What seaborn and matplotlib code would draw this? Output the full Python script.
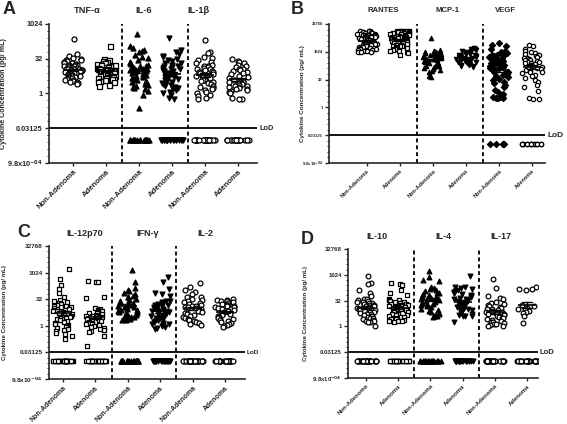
import warnings
import numpy as np
import seaborn as sns
import matplotlib.pyplot as plt
from matplotlib.ticker import NullFormatter

warnings.filterwarnings("ignore")
np.random.seed(3)  # fixed jitter

# ---- values, pg/mL ----
groups = ["Non-Adenoma", "Adenoma"]
lod = 0.03125
undetected = 0.01  # samples below LoD are drawn on this row

# panel A
tnf_non = [230, 50, 42, 35, 31, 29, 27, 25, 24, 22, 21, 20, 19, 18, 18, 17, 16, 15, 15, 14, 14, 13, 13, 12,
           12, 12, 11, 11, 10, 10, 10, 9.6, 9.2, 9, 8.7, 8.3, 8, 7.8, 7.4, 7, 6.8, 6.5, 6.3, 6, 5.8, 5.5,
           5.2, 5, 4.8, 4.6, 4.3, 4.1, 3.9, 3.7, 3.5, 3.2, 3, 2.8, 2.6]
tnf_ad = [110, 30, 27, 25, 23, 21, 20, 19, 18, 17, 17, 16, 15, 15, 14, 14, 13, 13, 12, 12, 12, 11, 11, 11,
          10, 10, 10, 9.5, 9.5, 9, 9, 8.6, 8.4, 8, 8, 7.6, 7.4, 7, 7, 6.6, 6.4, 6, 6, 5.7, 5.5, 5.3, 5,
          4.8, 4.6, 4.4, 4.2, 4, 3.8, 3.6, 3.4, 3.2, 3, 2.3, 2.1]
il6_non = [390, 110, 95, 80, 70, 60, 48, 40, 33, 28, 24, 21, 19, 17, 16, 15, 14, 13, 12, 11, 10, 10, 9.2,
           8.5, 8, 7.4, 7, 6.5, 6, 5.6, 5.2, 4.8, 4.4, 4, 3.6, 3.3, 3, 2.7, 2.4, 2.2, 2, 1.8, 1.6, 1.3,
           0.9, 0.24]
il6_ad = [260, 75, 60, 50, 44, 38, 32, 28, 25, 22, 20, 18, 16, 15, 14, 13, 12, 11, 10, 9.6, 9, 8.6, 8,
          7.5, 7, 6.6, 6.2, 5.8, 5.4, 5, 4.7, 4.4, 4, 3.7, 3.4, 3.1, 2.8, 2.6, 2.4, 2.2, 2, 1.8, 1.6, 1.4,
          1.2, 1, 0.85, 0.62, 0.58]
il1b_non = [210, 62, 55, 40, 34, 28, 24, 20, 18, 16, 15, 14, 13, 12, 11, 10, 9.4, 8.8, 8.2, 7.6, 7, 6.5,
            6, 5.6, 5.2, 4.8, 4.4, 4, 3.7, 3.4, 3.1, 2.8, 2.5, 2.2, 2, 1.8, 1.6, 1.4, 1.2, 1, 0.88, 0.76,
            0.65, 0.58]
il1b_ad = [30, 26, 24, 20, 18, 16, 14, 12, 11, 10, 9, 8.4, 7.8, 7, 6, 5.2, 4.6, 4, 3.6, 3.3, 3, 2.8, 2.6,
           2.4, 2.2, 2.1, 2, 1.9, 1.8, 1.6, 1.5, 1.4, 1.3, 1.2, 1.1, 0.62, 0.56, 0.6]
below_a = [0, 0, 18, 20, 22, 16]

# panel B
rantes_non = [13500, 13400, 13200, 13000, 12500, 12000, 11500, 11000, 10500, 10000, 9600, 9200, 8800, 8400,
              8000, 7700, 7400, 7100, 6800, 6500, 6200, 6000, 5800, 5600, 5400, 5200, 5000, 4800, 4600,
              4400, 4200, 4000, 3800, 3600, 3500, 3300, 3100, 3000, 2800, 2700, 2600, 2500, 2400, 2300,
              2200, 2100, 2000, 1900, 1800, 1700, 1600, 1500, 1400, 1300, 1250, 1200, 1100, 1050, 1000, 960]
rantes_ad = [13500, 13500, 13400, 13300, 13200, 13000, 12600, 12200, 11800, 11400, 11000, 10600, 10200,
             9800, 9400, 9000, 8600, 8200, 7900, 7600, 7300, 7000, 6700, 6400, 6100, 5900, 5700, 5500,
             5300, 5100, 4900, 4700, 4500, 4300, 4100, 3900, 3700, 3500, 3400, 3200, 3000, 2900, 2800,
             2600, 2500, 2400, 2300, 2200, 2100, 2000, 1900, 1800, 1700, 1600, 1500, 1400, 1300, 1200,
             1100, 1000, 920, 720]
mcp_non = [6000, 1300, 1200, 1100, 1050, 1000, 950, 900, 850, 800, 760, 720, 680, 640, 600, 570, 540, 510,
           480, 450, 420, 400, 380, 360, 340, 320, 300, 280, 260, 245, 230, 215, 200, 185, 170, 155, 140,
           125, 110, 95, 85, 48, 44]
mcp_ad = [1600, 1500, 1400, 1300, 1200, 1100, 1000, 940, 880, 820, 770, 720, 680, 640, 600, 560, 530, 500,
          470, 440, 410, 390, 370, 350, 330, 310, 290, 270, 250, 230, 210, 195, 180, 165, 150]
vegf_non = [2900, 2400, 2000, 1500, 1200, 1000, 900, 800, 720, 650, 600, 550, 500, 460, 420, 390, 360, 330,
            300, 280, 260, 240, 220, 200, 185, 170, 155, 140, 128, 116, 105, 95, 86, 78, 70, 62, 55, 48,
            42, 36, 30, 25, 20, 16, 12, 9, 7, 5.5, 4.2, 3.6, 3.5, 3.4, 3.4, 3.3]
vegf_ad = [2400, 2000, 1500, 1200, 1000, 900, 800, 720, 650, 600, 550, 500, 460, 420, 390, 360, 330, 300,
           280, 260, 240, 220, 200, 185, 170, 155, 140, 128, 116, 105, 95, 86, 78, 70, 60, 50, 40, 32, 24,
           16, 12, 8, 3.2, 3, 2.9]
below_b = [0, 0, 0, 0, 5, 14]

# panel C
il12_non = [1650, 450, 200, 120, 70, 45, 28, 25, 22, 20, 18, 16, 14, 13, 12, 11, 10, 9, 8, 7.2, 6.5, 6,
            5.5, 5, 4.5, 4, 3.6, 3.2, 2.9, 2.6, 2.3, 2, 1.8, 1.6, 1.4, 1.25, 1.1, 1, 0.9, 0.8, 0.7, 0.6,
            0.5, 0.4, 0.35, 0.27, 0.19]
il12_ad = [360, 320, 290, 42, 37, 10, 9, 8, 7.2, 6.5, 6, 5.4, 5, 4.5, 4, 3.6, 3.3, 3, 2.7, 2.5, 2.2, 2,
           1.8, 1.7, 1.5, 1.4, 1.3, 1.2, 1.1, 1, 0.9, 0.8, 0.7, 0.6, 0.5, 0.47, 0.27, 0.07]
ifng_non = [1450, 300, 130, 110, 90, 75, 60, 50, 45, 40, 32, 28, 25, 22, 20, 18, 16, 14, 13, 12, 11, 10,
            9, 8.2, 7.5, 7, 6.5, 6, 5.5, 5, 4.6, 4.2, 3.8, 3.5, 3.2, 3, 2.8, 2.6, 2.4, 2.2, 2.1]
ifng_ad = [550, 300, 120, 70, 60, 50, 26, 24, 22, 20, 18, 16, 15, 14, 13, 12, 11, 10, 9, 8.4, 7.8, 7.2,
           6.6, 6, 5.5, 5, 4.6, 4.2, 3.8, 3.5, 3.2, 2.9, 2.6, 2.4, 2.2, 2, 1.8, 1.6, 1.4, 1.3, 1.2, 1.1,
           1, 0.9, 0.8, 0.7]
il2_non = [256, 150, 110, 80, 60, 45, 40, 35, 30, 26, 23, 20, 18, 16, 14, 13, 12, 11, 10, 9, 8, 7.2, 6.5,
           6, 5.5, 5, 4.5, 4, 3.6, 3.2, 2.8, 2.5, 2.2, 2, 1.8, 1.6, 1.4, 1.2, 1.1]
il2_ad = [32, 30, 28, 26, 24, 22, 20, 18, 16, 15, 14, 13, 12, 11, 10, 9, 8, 7.2, 6.5, 6, 5.5, 5, 4.5, 4,
          3.6, 3.2, 2.8, 2.5, 2.2, 2, 1.8, 1.6, 1.4, 1.2, 1.1, 1, 0.9]
below_c = [30, 30, 24, 24, 26, 20]

# panel D
il10_non = [830, 340, 300, 128, 90, 56, 42, 38, 34, 31, 28, 26, 24, 22, 20, 18, 17, 16, 15, 14, 13, 12,
            11, 10, 9.2, 8.5, 7.8, 7.2, 6.6, 6, 5.5, 5, 4.6, 4.2, 3.8, 3.5, 3.2, 2.9, 2.6, 2.4, 2.2, 2,
            1.85, 1.7, 1.07]
il10_ad = [360, 315, 256, 128, 90, 64, 40, 36, 33, 30, 28, 26, 24, 22, 20, 19, 18, 17, 16, 15, 14, 13, 12,
           11, 10, 9.5, 9, 8.5, 8, 7.5, 7, 6.5, 6, 5.6, 5.2, 4.8, 4.4, 4, 3.7, 3.4, 3.1, 2.8, 2.6, 2.4,
           2.2, 2.1, 2, 1.9]
il4_non = [1800, 720, 512, 470, 210, 180, 150, 130, 110, 95, 85, 75, 66, 58, 52, 46, 42, 38, 34, 30, 27,
           24, 21, 19, 17, 15, 13, 11, 9.5, 8, 7, 6, 5.2, 4.6, 4.2, 4, 3.7]
il4_ad = [830, 210, 190, 170, 150, 135, 120, 105, 95, 85, 76, 68, 60, 54, 48, 42, 38, 34, 30, 27, 24, 21,
          19, 17, 15, 13, 12, 11, 10, 9, 8, 7, 6.2, 5.5, 4.8, 4.2, 4, 3.8, 1.9]
il17_non = [550, 180, 60, 45, 40, 26, 23, 20, 18, 16, 14, 12, 11, 10, 9, 8, 7.2, 6.5, 6, 5.5, 5, 4.5, 4,
            3.6, 3.2, 2.9, 2.6, 2.3, 2.1, 1.9, 1.7, 1.5, 1.4, 1.3, 1.2, 1.1, 1.07]
il17_ad = [190, 160, 150, 140, 17, 15, 12, 10, 9, 8, 7, 6, 4, 1.5]
below_d = [26, 26, 22, 24, 26, 22]

tick_text = {-10: r"9.8x10$^{-04}$", -5: "0.03125", 0: "1", 5: "32", 10: "1024", 15: "32768"}

panels = [
    dict(letter="A", titles=["TNF-\u03b1", "IL-6", "IL-1\u03b2"],
         cols=[tnf_non, tnf_ad, il6_non, il6_ad, il1b_non, il1b_ad], below=below_a,
         marks=[("o", 0), ("s", 0), ("^", 1), ("v", 1), ("o", 0), ("o", 0)],
         top=10, rect=[0.0864, 0.6156, 0.3668, 0.3278], xlim=(-0.73, 5.58),
         title_x=[0.42, 2.15, 3.8], ms=3.6, fs=dict(tick=5.3, cat=5.6, title=6.7, lab=5.1, lod=5.3),
         ylab_x=-0.2, letter_xy=(0.004, 0.997)),
    dict(letter="B", titles=["RANTES", "MCP-1", "VEGF"],
         cols=[rantes_non, rantes_ad, mcp_non, mcp_ad, vegf_non, vegf_ad], below=below_b,
         marks=[("o", 0), ("s", 0), ("^", 1), ("v", 1), ("D", 1), ("o", 0)],
         top=15, rect=[0.5802, 0.6156, 0.381, 0.3278], xlim=(-1.15, 5.39),
         title_x=[0.5, 2.45, 4.2], ms=3.1, fs=dict(tick=3.0, cat=4.0, title=5.6, lab=4.5, lod=6.0),
         ylab_x=-0.11, letter_xy=(0.513, 0.997)),
    dict(letter="C", titles=["IL-12p70", "IFN-\u03b3", "IL-2"],
         cols=[il12_non, il12_ad, ifng_non, ifng_ad, il2_non, il2_ad], below=below_c,
         marks=[("s", 0), ("s", 0), ("^", 1), ("v", 1), ("o", 0), ("o", 0)],
         top=15, rect=[0.0864, 0.1061, 0.3457, 0.3137], xlim=(-0.43, 5.62),
         title_x=[0.68, 2.6, 4.4], ms=3.5, fs=dict(tick=4.6, cat=5.0, title=6.5, lab=4.4, lod=4.6),
         ylab_x=-0.214, letter_xy=(0.03, 0.472)),
    dict(letter="D", titles=["IL-10", "IL-4", "IL-17"],
         cols=[il10_non, il10_ad, il4_non, il4_ad, il17_non, il17_ad], below=below_d,
         marks=[("o", 0), ("s", 0), ("^", 1), ("v", 1), ("o", 0), ("o", 0)],
         top=15, rect=[0.6138, 0.1085, 0.3351, 0.3042], xlim=(-0.56, 5.34),
         title_x=[0.34, 2.4, 4.2], ms=3.4, fs=dict(tick=4.3, cat=4.3, title=6.5, lab=4.4, lod=5.5),
         ylab_x=-0.21, letter_xy=(0.531, 0.455)),
]

sns.set_style("ticks")
plt.rcParams["font.family"] = ["Liberation Sans", "DejaVu Sans"]
plt.rcParams["font.weight"] = "bold"
plt.rcParams["mathtext.default"] = "bf"

fig = plt.figure(figsize=(5.67, 4.24), dpi=100)

for p in panels:
    ax = fig.add_axes(p["rect"])
    ax.set_yscale("log", base=2)
    order = [f"{t} {g}" for t in p["titles"] for g in groups]
    for i, key in enumerate(order):
        vals = p["cols"][i]
        m, filled = p["marks"][i]
        face = "black" if filled else "white"
        sns.stripplot(x=[key] * len(vals), y=vals, order=order, ax=ax, marker=m, size=p["ms"],
                      jitter=0.3, color=face, edgecolor="black", linewidth=0.9, zorder=3)
        n = p["below"][i]
        if n:
            sns.stripplot(x=[key] * n, y=[undetected] * n, order=order, ax=ax, marker=m, size=p["ms"],
                          jitter=0.33, color=face, edgecolor="black", linewidth=0.9, zorder=3)
        sns.pointplot(x=[key] * len(vals), y=vals, order=order, ax=ax, errorbar="se", capsize=0.3,
                      color="black", marker="_", markersize=13, markeredgewidth=1.2, linestyle="none",
                      err_kws={"linewidth": 1.0}, zorder=4)

    top = p["top"]
    ax.set_ylim(2.0 ** -10, 2.0 ** top)
    majors = list(range(-10, top + 1, 5))
    ax.set_yticks([2.0 ** k for k in majors], [tick_text[k] for k in majors])
    ax.set_yticks([2.0 ** k for k in range(-10, top + 1)], minor=True)
    ax.yaxis.set_minor_formatter(NullFormatter())
    ax.set_xlim(*p["xlim"])
    ax.set_xticks(range(6), groups * 3, rotation=45, ha="right", rotation_mode="anchor")
    ax.tick_params(axis="y", which="major", labelsize=p["fs"]["tick"], length=3, width=1, pad=1.5)
    ax.tick_params(axis="y", which="minor", length=1.8, width=0.7)
    ax.tick_params(axis="x", labelsize=p["fs"]["cat"], length=2, width=1, pad=2)
    for lab in ax.get_xticklabels() + ax.get_yticklabels():
        lab.set_fontweight("bold")
    sns.despine(ax=ax)
    for s in ["left", "bottom"]:
        ax.spines[s].set_linewidth(1.2)

    ax.set_xlabel("")
    ax.set_ylabel("Cytokine Concentration (pg/ mL)", fontsize=p["fs"]["lab"], fontweight="bold")
    ax.yaxis.set_label_coords(p["ylab_x"], 0.5)

    for xs in (1.5, 3.5):
        ax.axvline(xs, color="black", lw=1.3, ls=(0, (2.2, 1.6)), zorder=1)
    ax.axhline(lod, color="black", lw=1.3, zorder=2)
    ax.text(1.01, lod, "LoD", transform=ax.get_yaxis_transform(), fontsize=p["fs"]["lod"],
            fontweight="bold", va="center", ha="left")
    for tx, t in zip(p["title_x"], p["titles"]):
        ax.annotate(t, xy=(tx, 1), xycoords=("data", "axes fraction"), xytext=(0, 13),
                    textcoords="offset pixels", ha="center", va="center",
                    fontsize=p["fs"]["title"], fontweight="bold")
    fig.text(*p["letter_xy"], p["letter"], fontsize=13, fontweight="bold", va="top", ha="left")

fig.savefig("out.png", dpi=100)
